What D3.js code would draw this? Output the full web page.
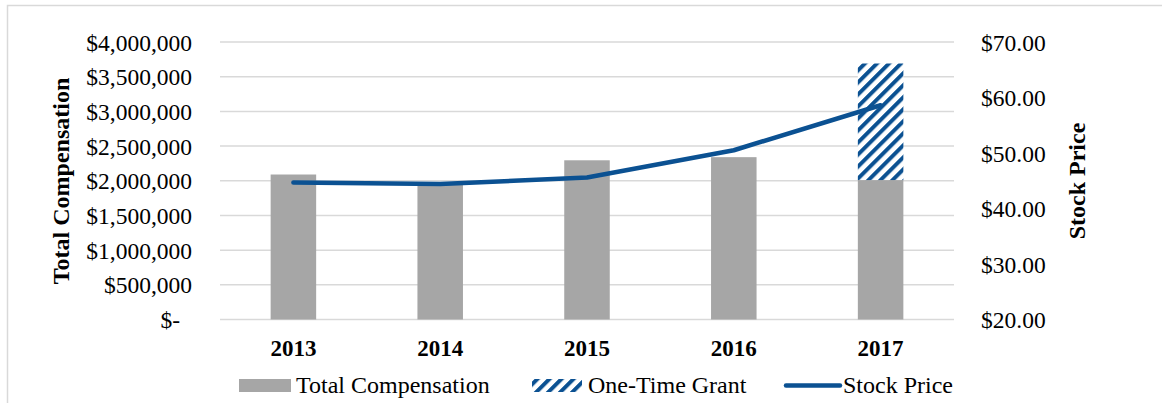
<!DOCTYPE html>
<html>
<head>
<meta charset="utf-8">
<script src="https://cdn.jsdelivr.net/npm/d3@7"></script>
<style>
  body { margin: 0; background: #fff; }
  svg text { font-family: "Liberation Serif", "Times New Roman", Times, serif !important; fill: #000; }
</style>
</head>
<body>
<div class="chart"></div>
<script>
// chart data
const years = ['2013', '2014', '2015', '2016', '2017'];
const totalComp = [2090000, 1970000, 2295000, 2340000, 2010000];
const oneTimeGrant = [0, 0, 0, 0, 1680000];
const stockPrice = [44.7, 44.4, 45.6, 50.5, 58.6];
const compTicks = [0, 500000, 1000000, 1500000, 2000000, 2500000, 3000000, 3500000, 4000000];
const priceTicks = [20, 30, 40, 50, 60, 70];
const legendItems = ['Total Compensation', 'One-Time Grant', 'Stock Price'];

const width = 1162, height = 403;
const margin = { top: 42, right: 208, bottom: 83.5, left: 220 };
const blue = '#0b5192';
const gray = '#a6a6a6';

const svg = d3.select('.chart')
    .append('svg')
    .attr('width', width)
    .attr('height', height);

// hatch pattern for the one-time grant
const pat = svg.append('defs').append('pattern')
    .attr('id', 'hatch')
    .attr('patternUnits', 'userSpaceOnUse')
    .attr('width', 8.5)
    .attr('height', 8.5)
    .attr('patternTransform', 'rotate(45)');
pat.append('rect').attr('width', 8.5).attr('height', 8.5).attr('fill', '#fff');
pat.append('rect').attr('width', 4).attr('height', 8.5).attr('fill', blue);

// outer frame
svg.append('rect')
    .attr('x', 7.5).attr('y', 5.5)
    .attr('width', 1170).attr('height', 420)
    .attr('fill', 'none')
    .attr('stroke', '#d9d9d9')
    .attr('stroke-width', 1.5);

const x = d3.scaleBand()
    .domain(years)
    .range([margin.left, width - margin.right])
    .paddingInner(0.69)
    .paddingOuter(0.345);

const yL = d3.scaleLinear()
    .domain([0, 4000000])
    .range([height - margin.bottom, margin.top]);

const yR = d3.scaleLinear()
    .domain([20, 70])
    .range([height - margin.bottom, margin.top]);

// gridlines
svg.append('g')
    .selectAll('line')
    .data(compTicks)
    .join('line')
    .attr('x1', margin.left)
    .attr('x2', width - margin.right)
    .attr('y1', d => yL(d))
    .attr('y2', d => yL(d))
    .attr('stroke', '#d9d9d9')
    .attr('stroke-width', 1.5);

// left axis labels
const fmt = d => d === 0 ? '$-' : '$' + d3.format(',')(d);
const leftAxis = svg.append('g')
    .attr('transform', `translate(192,0)`)
    .call(d3.axisLeft(yL).tickValues(compTicks).tickFormat(fmt).tickSize(0).tickPadding(0));
leftAxis.select('.domain').remove();
leftAxis.selectAll('text')
    .style('font-size', '23.5px')
    .attr('dy', '0.34em')
    .attr('dx', d => d === 0 ? -12 : 0);

// right axis labels
const rightAxis = svg.append('g')
    .attr('transform', `translate(981,0)`)
    .call(d3.axisRight(yR).tickValues(priceTicks).tickFormat(d3.format('$.2f')).tickSize(0).tickPadding(0));
rightAxis.select('.domain').remove();
rightAxis.selectAll('text')
    .style('font-size', '23.5px')
    .attr('dy', '0.34em');

// x axis year labels
svg.append('g')
    .selectAll('text')
    .data(years)
    .join('text')
    .attr('x', d => x(d) + x.bandwidth() / 2)
    .attr('y', 356)
    .attr('text-anchor', 'middle')
    .style('font-size', '23px')
    .style('font-weight', 'bold')
    .text(d => d);

// axis titles
svg.append('text')
    .attr('transform', 'translate(69,181) rotate(-90)')
    .attr('text-anchor', 'middle')
    .style('font-size', '24px')
    .style('font-weight', 'bold')
    .text('Total Compensation');

svg.append('text')
    .attr('transform', 'translate(1085,181) rotate(-90)')
    .attr('text-anchor', 'middle')
    .style('font-size', '24px')
    .style('font-weight', 'bold')
    .text('Stock Price');

// bars
svg.append('g')
    .selectAll('rect')
    .data(years)
    .join('rect')
    .attr('x', d => x(d))
    .attr('width', x.bandwidth())
    .attr('y', (d, i) => yL(totalComp[i]))
    .attr('height', (d, i) => yL(0) - yL(totalComp[i]))
    .attr('fill', gray);

svg.append('g')
    .selectAll('rect')
    .data(years.filter((d, i) => oneTimeGrant[i] > 0))
    .join('rect')
    .attr('x', d => x(d))
    .attr('width', x.bandwidth())
    .attr('y', d => {
        const i = years.indexOf(d);
        return yL(totalComp[i] + oneTimeGrant[i]);
    })
    .attr('height', d => {
        const i = years.indexOf(d);
        return yL(totalComp[i]) - yL(totalComp[i] + oneTimeGrant[i]);
    })
    .attr('fill', 'url(#hatch)');

// stock price line
const line = d3.line()
    .x((d, i) => x(years[i]) + x.bandwidth() / 2)
    .y(d => yR(d));

svg.append('path')
    .datum(stockPrice)
    .attr('d', line)
    .attr('fill', 'none')
    .attr('stroke', blue)
    .attr('stroke-width', 4.5)
    .attr('stroke-linecap', 'round')
    .attr('stroke-linejoin', 'round');

// legend
const legend = svg.append('g');
const lg = [
    { sx: 239, tx: 296 },
    { sx: 532, tx: 588 },
    { sx: 786, tx: 843 }
];
legend.append('rect')
    .attr('x', lg[0].sx).attr('y', 379)
    .attr('width', 52).attr('height', 13)
    .attr('fill', gray);
legend.append('rect')
    .attr('x', lg[1].sx).attr('y', 379)
    .attr('width', 50).attr('height', 13)
    .attr('fill', 'url(#hatch)');
legend.append('line')
    .attr('x1', lg[2].sx).attr('x2', lg[2].sx + 54)
    .attr('y1', 385.5).attr('y2', 385.5)
    .attr('stroke', blue)
    .attr('stroke-width', 4.5)
    .attr('stroke-linecap', 'round');
legend.selectAll('text')
    .data(legendItems)
    .join('text')
    .attr('x', (d, i) => lg[i].tx)
    .attr('y', 393)
    .style('font-size', '24px')
    .text(d => d);
</script>
</body>
</html>
